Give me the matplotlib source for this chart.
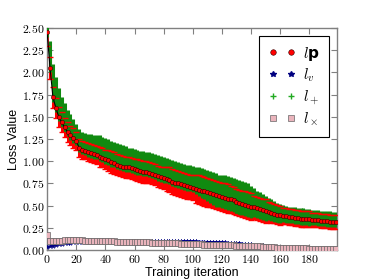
import numpy as np
import matplotlib
matplotlib.use('Agg')
import matplotlib.pyplot as plt
from matplotlib.lines import Line2D
from matplotlib.ticker import FuncFormatter

plt.rcParams['mathtext.fontset'] = 'cm'

# training iterations (every second step)
iters = np.arange(0, 200, 2)

# l_p mean and spread
lp_mean = [2.45, 2.05, 1.72, 1.60, 1.50, 1.44, 1.38, 1.33, 1.29, 1.26,
           1.23, 1.15, 1.13, 1.12, 1.10, 1.09, 1.08, 1.07, 1.05, 1.04,
           1.02, 1.01, 0.99, 0.98, 0.96, 0.95, 0.94, 0.93, 0.93, 0.92,
           0.91, 0.90, 0.89, 0.88, 0.88, 0.87, 0.86, 0.85, 0.83, 0.82,
           0.81, 0.80, 0.79, 0.77, 0.76, 0.75, 0.74, 0.73, 0.72, 0.71,
           0.70, 0.69, 0.68, 0.67, 0.66, 0.65, 0.64, 0.63, 0.62, 0.61,
           0.60, 0.59, 0.58, 0.57, 0.56, 0.54, 0.53, 0.52, 0.51, 0.50,
           0.49, 0.48, 0.47, 0.46, 0.45, 0.44, 0.43, 0.42, 0.41, 0.40,
           0.39, 0.385, 0.38, 0.375, 0.37, 0.365, 0.36, 0.355, 0.35, 0.35,
           0.345, 0.34, 0.34, 0.335, 0.33, 0.33, 0.325, 0.32, 0.32, 0.315]
lp_err = [0.15, 0.12, 0.12, 0.11, 0.11, 0.11, 0.11, 0.11, 0.11, 0.11,
          0.10, 0.10, 0.10, 0.10, 0.10, 0.10, 0.10, 0.10, 0.11, 0.11,
          0.11, 0.12, 0.12, 0.12, 0.12, 0.12, 0.12, 0.12, 0.12, 0.12,
          0.12, 0.12, 0.12, 0.12, 0.12, 0.12, 0.12, 0.12, 0.12, 0.12,
          0.12, 0.14, 0.14, 0.14, 0.14, 0.14, 0.14, 0.14, 0.14, 0.14,
          0.14, 0.16, 0.16, 0.16, 0.16, 0.16, 0.16, 0.16, 0.16, 0.16,
          0.16, 0.16, 0.16, 0.15, 0.15, 0.15, 0.15, 0.15, 0.15, 0.15,
          0.15, 0.13, 0.13, 0.13, 0.13, 0.13, 0.11, 0.11, 0.11, 0.11,
          0.11, 0.09, 0.09, 0.09, 0.09, 0.09, 0.09, 0.09, 0.09, 0.09,
          0.09, 0.08, 0.08, 0.08, 0.08, 0.08, 0.08, 0.08, 0.08, 0.08]

# l_+ range (lower / upper bound)
lplus_lo = [2.40, 2.00, 1.67, 1.55, 1.45, 1.39, 1.33, 1.28, 1.24, 1.21,
            1.18, 1.10, 1.08, 1.07, 1.05, 1.04, 1.03, 1.02, 1.00, 0.99,
            0.97, 0.96, 0.94, 0.93, 0.91, 0.90, 0.89, 0.88, 0.88, 0.87,
            0.86, 0.85, 0.84, 0.83, 0.83, 0.82, 0.81, 0.80, 0.78, 0.77,
            0.76, 0.75, 0.74, 0.72, 0.71, 0.70, 0.69, 0.68, 0.67, 0.66,
            0.65, 0.63, 0.61, 0.59, 0.57, 0.55, 0.53, 0.51, 0.49, 0.48,
            0.47, 0.46, 0.45, 0.44, 0.43, 0.41, 0.40, 0.39, 0.38, 0.37,
            0.36, 0.37, 0.36, 0.35, 0.34, 0.33, 0.34, 0.33, 0.32, 0.31,
            0.30, 0.315, 0.31, 0.305, 0.30, 0.295, 0.29, 0.285, 0.28, 0.28,
            0.275, 0.28, 0.28, 0.275, 0.27, 0.27, 0.265, 0.26, 0.26, 0.255]
lplus_hi = [2.70, 2.35, 2.10, 1.95, 1.82, 1.72, 1.65, 1.58, 1.53, 1.48,
            1.42, 1.36, 1.33, 1.32, 1.31, 1.31, 1.30, 1.30, 1.29, 1.27,
            1.26, 1.25, 1.23, 1.22, 1.20, 1.19, 1.18, 1.17, 1.15, 1.15,
            1.14, 1.13, 1.12, 1.11, 1.10, 1.10, 1.09, 1.08, 1.07, 1.06,
            1.05, 1.04, 1.03, 1.01, 1.00, 0.99, 0.98, 0.97, 0.96, 0.96,
            0.95, 0.94, 0.93, 0.92, 0.91, 0.90, 0.89, 0.88, 0.87, 0.85,
            0.85, 0.84, 0.83, 0.82, 0.81, 0.80, 0.79, 0.78, 0.77, 0.75,
            0.72, 0.70, 0.67, 0.65, 0.63, 0.61, 0.59, 0.57, 0.55, 0.53,
            0.52, 0.51, 0.50, 0.49, 0.485, 0.48, 0.475, 0.47, 0.47, 0.465,
            0.46, 0.455, 0.45, 0.45, 0.445, 0.44, 0.44, 0.435, 0.43, 0.43]

# l_v and l_x
lv = [0.030, 0.040, 0.050, 0.058, 0.065, 0.070, 0.075, 0.080, 0.084, 0.087,
      0.090, 0.092, 0.094, 0.095, 0.096, 0.097, 0.098, 0.099, 0.100, 0.100,
      0.101, 0.101, 0.101, 0.101, 0.101, 0.101, 0.101, 0.101, 0.101, 0.101,
      0.101, 0.101, 0.101, 0.101, 0.101, 0.101, 0.101, 0.101, 0.101, 0.100,
      0.100, 0.100, 0.100, 0.100, 0.100, 0.100, 0.099, 0.099, 0.099, 0.098,
      0.098, 0.097, 0.096, 0.095, 0.094, 0.093, 0.092, 0.091, 0.090, 0.088,
      0.087, 0.085, 0.083, 0.081, 0.079, 0.077, 0.075, 0.072, 0.070, 0.067,
      0.064, 0.061, 0.058, 0.055, 0.052, 0.049, 0.046, 0.043, 0.040, 0.036,
      0.033, 0.030, 0.027, 0.024, 0.022, 0.020, 0.018, 0.017, 0.016, 0.015,
      0.014, 0.013, 0.012, 0.012, 0.011, 0.011, 0.010, 0.010, 0.010, 0.010]
lx = [0.170, 0.105, 0.100, 0.102, 0.104, 0.106, 0.108, 0.109, 0.110, 0.110,
      0.110, 0.109, 0.108, 0.107, 0.106, 0.105, 0.104, 0.103, 0.102, 0.101,
      0.100, 0.099, 0.098, 0.097, 0.096, 0.095, 0.094, 0.093, 0.092, 0.091,
      0.090, 0.089, 0.088, 0.087, 0.086, 0.085, 0.084, 0.083, 0.082, 0.081,
      0.080, 0.079, 0.078, 0.077, 0.076, 0.074, 0.073, 0.072, 0.070, 0.068,
      0.066, 0.065, 0.064, 0.063, 0.062, 0.061, 0.060, 0.059, 0.058, 0.057,
      0.056, 0.055, 0.054, 0.053, 0.052, 0.051, 0.050, 0.049, 0.048, 0.047,
      0.046, 0.044, 0.042, 0.040, 0.038, 0.036, 0.034, 0.032, 0.030, 0.028,
      0.027, 0.026, 0.025, 0.024, 0.023, 0.022, 0.021, 0.020, 0.019, 0.018,
      0.017, 0.017, 0.016, 0.016, 0.015, 0.015, 0.015, 0.014, 0.014, 0.014]

labels = [r'$l$p', r'$l_v$', r'$l_+$', r'$l_\times$']

lp_mean = np.array(lp_mean)
lp_err = np.array(lp_err)
plus_err = [lp_mean - np.array(lplus_lo), np.array(lplus_hi) - lp_mean]

fig = plt.figure(figsize=(3.74, 2.8), dpi=100)
ax = fig.add_axes([0.126, 0.107, 0.775, 0.793])

# l_p errorbars (red)
eb_p = ax.errorbar(iters, lp_mean, yerr=lp_err, fmt='none', ecolor='red',
                   elinewidth=2.2, capsize=2.2, capthick=1.0, zorder=2)
# l_+ errorbars (green)
ax.errorbar(iters, lp_mean, yerr=plus_err, fmt='none', ecolor='#108a10',
            elinewidth=2.2, zorder=3)
for cap in eb_p[1]:
    cap.set_zorder(4)
ax.plot(iters, lp_mean, '-', color='black', lw=0.8, zorder=5)
ax.plot(iters, lp_mean, 'o', color='red', mec='#330000', mew=0.4, ms=3, zorder=6)

# l_v and l_x
ax.errorbar(iters, lv, yerr=0.01, fmt='*-', color='#000080', ecolor='blue',
            lw=1.0, ms=3.5, mew=0.3, elinewidth=1.5, zorder=3)
ax.plot(iters, lv, '-', color='blue', lw=1.2, zorder=3)
ax.plot(iters, lx, 's', color='#eab4bc', mec='#666666', mew=0.5, ms=4.2, zorder=4)

ax.set_xlim(0, 199)
ax.set_ylim(0, 2.5)
ax.set_xticks(np.arange(0, 200, 20))
ax.set_yticks(np.arange(0, 2.51, 0.25))
ax.xaxis.set_major_formatter(FuncFormatter(lambda v, p: r'$%d$' % v))
ax.yaxis.set_major_formatter(FuncFormatter(lambda v, p: r'$%.2f$' % v))
ax.tick_params(direction='in', top=True, right=True, length=4, color='#808080',
               labelsize=8.5, pad=2)
for s in ax.spines.values():
    s.set_color('#808080')
    s.set_linewidth(1.0)

ax.set_xlabel('Training iteration', family='Liberation Sans', fontsize=9, labelpad=1)
ax.set_ylabel('Loss Value', family='Liberation Sans', fontsize=9, labelpad=1)

handles = [
    Line2D([], [], ls='none', marker='o', color='red', mec='#330000', mew=0.4, ms=4),
    Line2D([], [], ls='none', marker='*', color='#000080', ms=4),
    Line2D([], [], ls='none', marker='+', color='#22aa22', ms=4),
    Line2D([], [], ls='none', marker='s', color='#eab4bc', mec='#666666', mew=0.5, ms=4),
]
leg = ax.legend(handles, labels, loc='upper right', numpoints=2, fontsize=11,
                fancybox=False, framealpha=1, edgecolor='black',
                handlelength=1.8, handletextpad=0.5, labelspacing=0.25,
                borderpad=0.6, borderaxespad=0.5)
leg.get_frame().set_linewidth(0.8)
leg.get_texts()[0].set_fontweight('bold')

fig.savefig('out.png', dpi=100)
